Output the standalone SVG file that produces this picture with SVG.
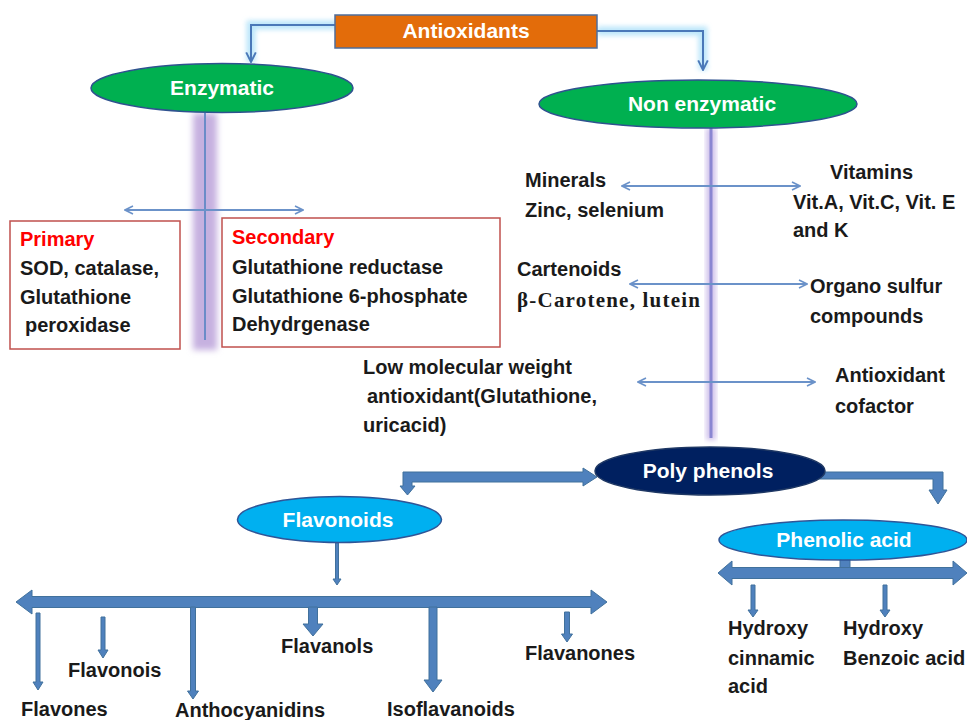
<svg xmlns="http://www.w3.org/2000/svg" width="967" height="720" viewBox="0 0 967 720">
<style>
.t{font-family:"Liberation Sans",Arial,sans-serif;font-weight:bold;font-size:20px;fill:#1a1a1a}
.w{font-family:"Liberation Sans",Arial,sans-serif;font-weight:bold;font-size:21px;fill:#ffffff;text-anchor:middle}
.r{fill:#ff0000}
.thin{fill:none;stroke:#6b92c9;stroke-width:2}
.blk{fill:#4f81bd;stroke:#41719c;stroke-width:1}
.box{fill:#ffffff;stroke:#c0504d;stroke-width:1.5}
</style>
<defs>
<marker id="ah" viewBox="0 0 10 10" refX="9" refY="5" markerWidth="10" markerHeight="10" markerUnits="userSpaceOnUse" orient="auto-start-reverse">
<path d="M1,1 L9,5 L1,9" fill="none" stroke="#6b92c9" stroke-width="1.6"/>
</marker>
<marker id="ah2" viewBox="0 0 10 10" refX="9" refY="5" markerWidth="12" markerHeight="12" markerUnits="userSpaceOnUse" orient="auto">
<path d="M1,1 L9,5 L1,9" fill="none" stroke="#4a78b8" stroke-width="1.6"/>
</marker>
<filter id="blur" x="-50%" y="-10%" width="200%" height="120%"><feGaussianBlur stdDeviation="3"/></filter>
<filter id="blur2" x="-20%" y="-50%" width="140%" height="200%"><feGaussianBlur stdDeviation="2.5"/></filter>
</defs>

<g id="connectors">
<path d="M353 25 H251 V62" fill="none" stroke="#9fdcf8" stroke-width="9" opacity="0.7" filter="url(#blur2)"/>
<path d="M597 31 H703 V70" fill="none" stroke="#9fdcf8" stroke-width="9" opacity="0.7" filter="url(#blur2)"/>
<path d="M353 25 H251 V62" fill="none" stroke="#4a78b8" stroke-width="2" marker-end="url(#ah2)"/>
<path d="M597 31 H703 V70" fill="none" stroke="#4a78b8" stroke-width="2" marker-end="url(#ah2)"/>
<rect x="193" y="113" width="24" height="237" fill="#c6b1e0" filter="url(#blur)"/>
<line x1="205" y1="113" x2="205" y2="340" stroke="#6b8cc8" stroke-width="2"/>
<line class="thin" x1="125" y1="210" x2="303" y2="210" marker-start="url(#ah)" marker-end="url(#ah)"/>
<rect x="706" y="128" width="10" height="312" fill="#d2c4ec" filter="url(#blur2)"/>
<line x1="711" y1="128" x2="711" y2="438" stroke="#8a86d2" stroke-width="3"/>
<line class="thin" x1="622" y1="186" x2="800" y2="186" marker-start="url(#ah)" marker-end="url(#ah)"/>
<line class="thin" x1="630" y1="284" x2="807" y2="284" marker-start="url(#ah)" marker-end="url(#ah)"/>
<line class="thin" x1="638" y1="382" x2="815" y2="382" marker-start="url(#ah)" marker-end="url(#ah)"/>
<polygon class="blk" points="403,472 583,472 583,468 597,477 583,486 583,482 412,482 412,486 415,486 407.5,495 400,486 403,486"/>
<polygon class="blk" points="815,472 943,472 943,490 947,490 938,504 929,490 933,490 933,479 815,479"/>
<polygon class="blk" points="335.5,543 338.5,543 338.5,579 341,579 337,585 333,579 335.5,579"/>
<polygon class="blk" points="16,602 32,590 32,596.5 591,596.5 591,590 607,602 591,614 591,607.5 32,607.5 32,614"/>
<polygon class="blk" points="36,613 40,613 40,682 43,682 38,690 33,682 36,682"/>
<polygon class="blk" points="101,617 105,617 105,650 108,650 103,658 98,650 101,650"/>
<polygon class="blk" points="190.5,607 195.5,607 195.5,691 198.5,691 193,699 187.5,691 190.5,691"/>
<polygon class="blk" points="308.5,607 317.5,607 317.5,624 323,624 313,636 303,624 308.5,624"/>
<polygon class="blk" points="429,607 437,607 437,680 442,680 433,692 424,680 429,680"/>
<polygon class="blk" points="564.5,612 569.5,612 569.5,634 572.5,634 567,642 561.5,634 564.5,634"/>
<rect class="blk" x="840" y="558" width="10" height="10"/>
<polygon class="blk" points="718,573 732,561 732,567.5 953,567.5 953,561 967,573 953,585 953,578.5 732,578.5 732,585"/>
<polygon class="blk" points="751,585 755,585 755,610 758,610 753,617 748,610 751,610"/>
<polygon class="blk" points="883,585 887,585 887,610 890,610 885,617 880,610 883,610"/>
</g>

<g id="antioxidants">
<rect x="335" y="15" width="262" height="33" fill="#e36c0a" stroke="#4f6d9a" stroke-width="1.5"/>
<text class="w" x="466" y="38">Antioxidants</text>
</g>
<g id="enzymatic">
<ellipse cx="222" cy="88" rx="131" ry="24.5" fill="#00b050" stroke="#2f528f" stroke-width="1.5"/>
<text class="w" x="222" y="95">Enzymatic</text>
</g>
<g id="non-enzymatic">
<ellipse cx="698" cy="104" rx="159" ry="24" fill="#00b050" stroke="#2f528f" stroke-width="1.5"/>
<text class="w" x="702" y="111">Non enzymatic</text>
</g>
<g id="primary">
<rect class="box" x="10" y="221" width="170" height="128"/>
<text class="t r" x="20" y="246">Primary</text>
<text class="t" x="20" y="275">SOD, catalase,</text>
<text class="t" x="20" y="304">Glutathione</text>
<text class="t" x="25" y="332">peroxidase</text>
</g>
<g id="secondary">
<rect class="box" x="222" y="218" width="278" height="129"/>
<text class="t r" x="232" y="244">Secondary</text>
<text class="t" x="232" y="274">Glutathione reductase</text>
<text class="t" x="232" y="303">Glutathione 6-phosphate</text>
<text class="t" x="232" y="331">Dehydrgenase</text>
</g>
<g id="minerals">
<text class="t" x="525" y="187">Minerals</text>
<text class="t" x="525" y="217">Zinc, selenium</text>
</g>
<g id="vitamins">
<text class="t" x="830" y="179">Vitamins</text>
<text class="t" x="793" y="209">Vit.A, Vit.C, Vit. E</text>
<text class="t" x="793" y="237">and K</text>
</g>
<g id="cartenoids">
<text class="t" x="517" y="276">Cartenoids</text>
<text x="517" y="307" font-family="'Liberation Serif','Times New Roman',serif" font-weight="bold" font-size="21" fill="#1a1a1a" textLength="183" lengthAdjust="spacing">β-Carotene, lutein</text>
</g>
<g id="organosulfur">
<text class="t" x="810" y="293">Organo sulfur</text>
<text class="t" x="810" y="323">compounds</text>
</g>
<g id="lowmw">
<text class="t" x="363" y="374">Low molecular weight</text>
<text class="t" x="367" y="403">antioxidant(Glutathione,</text>
<text class="t" x="363" y="432">uricacid)</text>
</g>
<g id="cofactor">
<text class="t" x="835" y="382">Antioxidant</text>
<text class="t" x="835" y="413">cofactor</text>
</g>
<g id="polyphenols">
<ellipse cx="710" cy="471" rx="115" ry="24" fill="#002060" stroke="#1f3864" stroke-width="1.5"/>
<text class="w" x="708" y="478">Poly phenols</text>
</g>
<g id="flavonoids">
<ellipse cx="339.5" cy="519.5" rx="102" ry="23" fill="#00b0f0" stroke="#2f5597" stroke-width="1.5"/>
<text class="w" x="338" y="527">Flavonoids</text>
</g>
<g id="phenolic-acid">
<ellipse cx="843" cy="540" rx="124" ry="20" fill="#00b0f0" stroke="#2f5597" stroke-width="1.5"/>
<text class="w" x="844" y="547">Phenolic acid</text>
</g>
<g id="flavonoid-types">
<text class="t" x="21" y="716">Flavones</text>
<text class="t" x="68" y="677">Flavonois</text>
<text class="t" x="175" y="717">Anthocyanidins</text>
<text class="t" x="281" y="653">Flavanols</text>
<text class="t" x="387" y="716">Isoflavanoids</text>
<text class="t" x="525" y="660">Flavanones</text>
</g>
<g id="hydroxycinnamic">
<text class="t" x="728" y="635">Hydroxy</text>
<text class="t" x="728" y="665">cinnamic</text>
<text class="t" x="728" y="693">acid</text>
</g>
<g id="hydroxybenzoic">
<text class="t" x="843" y="635">Hydroxy</text>
<text class="t" x="843" y="665">Benzoic acid</text>
</g>
</svg>
